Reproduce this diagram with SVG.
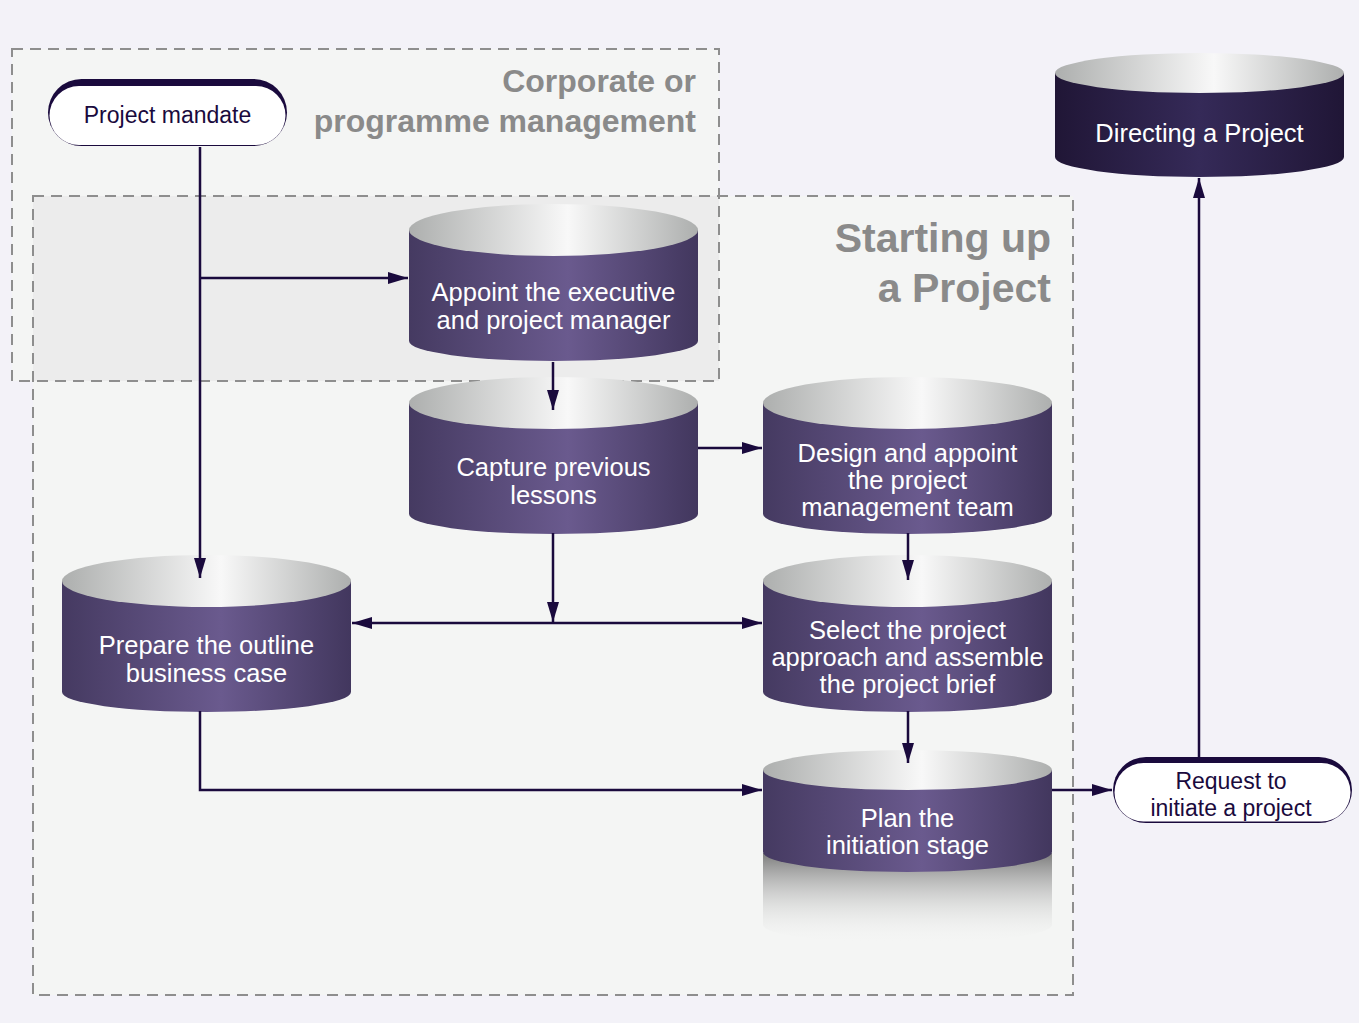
<svg xmlns="http://www.w3.org/2000/svg" xmlns:xlink="http://www.w3.org/1999/xlink" width="1359" height="1023" viewBox="0 0 1359 1023">
<style>
.frame{fill:none;stroke:#8e8e8e;stroke-width:2;stroke-dasharray:11 7}
.title{font-family:"Liberation Sans",Arial,sans-serif;font-weight:bold;fill:#8a8a8a;text-anchor:end}
.lbl{font-family:"Liberation Sans",Arial,sans-serif;font-size:25.5px;fill:#ffffff;text-anchor:middle}
.plbl{font-family:"Liberation Sans",Arial,sans-serif;font-size:23px;fill:#1a0a3d;text-anchor:middle}
.conn{fill:none;stroke:#1a0a3d;stroke-width:2.5}
</style>
<defs>
<linearGradient id="topG" x1="0" y1="0" x2="1" y2="0">
<stop offset="0" stop-color="#adafae"/>
<stop offset="0.55" stop-color="#f8f8f8"/>
<stop offset="1" stop-color="#adafae"/>
</linearGradient>
<linearGradient id="bodyG" x1="0" y1="0" x2="1" y2="0">
<stop offset="0" stop-color="#453a61"/>
<stop offset="0.55" stop-color="#6a5a8e"/>
<stop offset="1" stop-color="#42375e"/>
</linearGradient>
<linearGradient id="darkG" x1="0" y1="0" x2="1" y2="0">
<stop offset="0" stop-color="#201636"/>
<stop offset="0.5" stop-color="#352a58"/>
<stop offset="1" stop-color="#201636"/>
</linearGradient>
<linearGradient id="reflG" x1="0" y1="0" x2="0" y2="1">
<stop offset="0" stop-color="#7c7c7c" stop-opacity="1"/>
<stop offset="1" stop-color="#f4f5f4" stop-opacity="0"/>
</linearGradient>
<marker id="arr" markerUnits="userSpaceOnUse" markerWidth="22" markerHeight="14" refX="20" refY="6" orient="auto">
<path d="M0,0 L20,6 L0,12 Z" fill="#1a0a3d"/>
</marker>
<g id="cyl">
<path d="M0,26 L0,137 A144.5,20 0 0 0 289,137 L289,26 Z" fill="url(#bodyG)"/>
<ellipse cx="144.5" cy="26" rx="144.5" ry="26" fill="url(#topG)"/>
</g>
<g id="cylS">
<path d="M0,20 L0,102 A144.5,20 0 0 0 289,102 L289,20 Z" fill="url(#bodyG)"/>
<ellipse cx="144.5" cy="20" rx="144.5" ry="20" fill="url(#topG)"/>
</g>
</defs>

<rect x="0" y="0" width="1359" height="1023" fill="#f3f2f8"/>

<g id="frames">
<rect x="12" y="49" width="707" height="332" fill="#f4f5f4"/>
<rect x="33" y="196" width="1040" height="799" fill="#f4f5f4"/>
<rect x="33" y="196" width="686" height="185" fill="#ececec"/>
<rect class="frame" x="12" y="49" width="707" height="332"/>
<rect class="frame" x="33" y="196" width="1040" height="799"/>
<text class="title" x="696" y="92" font-size="32">Corporate or</text>
<text class="title" x="696" y="132" font-size="32">programme management</text>
<text class="title" x="1051" y="252" font-size="41">Starting up</text>
<text class="title" x="1051" y="302" font-size="41">a Project</text>
</g>

<g id="project-mandate">
<rect x="48" y="79" width="239" height="67" rx="33.5" fill="#1a0a3d"/>
<rect x="49.5" y="86" width="236" height="59" rx="29.5" fill="#ffffff"/>
<text class="plbl" x="167.5" y="123">Project mandate</text>
</g>

<g id="appoint">
<use xlink:href="#cyl" href="#cyl" transform="translate(409,204)"/>
<text class="lbl" x="553.5" y="301">Appoint the executive</text>
<text class="lbl" x="553.5" y="329">and project manager</text>
</g>

<g id="capture">
<use xlink:href="#cyl" href="#cyl" transform="translate(409,377)"/>
<text class="lbl" x="553.5" y="476">Capture previous</text>
<text class="lbl" x="553.5" y="504">lessons</text>
</g>

<g id="design">
<use xlink:href="#cyl" href="#cyl" transform="translate(763,377)"/>
<text class="lbl" x="907.5" y="462">Design and appoint</text>
<text class="lbl" x="907.5" y="489">the project</text>
<text class="lbl" x="907.5" y="516">management team</text>
</g>

<g id="select">
<use xlink:href="#cyl" href="#cyl" transform="translate(763,555)"/>
<text class="lbl" x="907.5" y="639">Select the project</text>
<text class="lbl" x="907.5" y="666">approach and assemble</text>
<text class="lbl" x="907.5" y="693">the project brief</text>
</g>

<g id="prepare">
<use xlink:href="#cyl" href="#cyl" transform="translate(62,555)"/>
<text class="lbl" x="206.5" y="654">Prepare the outline</text>
<text class="lbl" x="206.5" y="682">business case</text>
</g>

<g id="plan">
<path d="M763,853 L763,925 A144.5,18 0 0 0 1052,925 L1052,853 Z" fill="url(#reflG)"/>
<use xlink:href="#cylS" href="#cylS" transform="translate(763,750)"/>
<text class="lbl" x="907.5" y="827">Plan the</text>
<text class="lbl" x="907.5" y="854">initiation stage</text>
</g>

<g id="request">
<rect x="1113" y="757" width="239" height="66" rx="33" fill="#1a0a3d"/>
<rect x="1114.5" y="763" width="236" height="58.5" rx="29" fill="#ffffff"/>
<text class="plbl" x="1231" y="789">Request to</text>
<text class="plbl" x="1231" y="816">initiate a project</text>
</g>

<g id="directing">
<path d="M1055,73 L1055,157 A144.5,20 0 0 0 1344,157 L1344,73 Z" fill="url(#darkG)"/>
<ellipse cx="1199.5" cy="73" rx="144.5" ry="20" fill="url(#topG)"/>
<text class="lbl" x="1199.5" y="142">Directing a Project</text>
</g>

<g id="connectors">
<path class="conn" d="M200,147 L200,578" marker-end="url(#arr)"/>
<path class="conn" d="M200,278 L408,278" marker-end="url(#arr)"/>
<path class="conn" d="M553,362 L553,410" marker-end="url(#arr)"/>
<path class="conn" d="M698,448 L762,448" marker-end="url(#arr)"/>
<path class="conn" d="M553,533 L553,622" marker-end="url(#arr)"/>
<path class="conn" d="M553,623 L352,623" marker-end="url(#arr)"/>
<path class="conn" d="M553,623 L762,623" marker-end="url(#arr)"/>
<path class="conn" d="M908,533 L908,580" marker-end="url(#arr)"/>
<path class="conn" d="M908,711 L908,763" marker-end="url(#arr)"/>
<path class="conn" d="M200,711 L200,790 L762,790" marker-end="url(#arr)"/>
<path class="conn" d="M1052,790 L1112,790" marker-end="url(#arr)"/>
<path class="conn" d="M1199,757 L1199,178" marker-end="url(#arr)"/>
</g>
</svg>
